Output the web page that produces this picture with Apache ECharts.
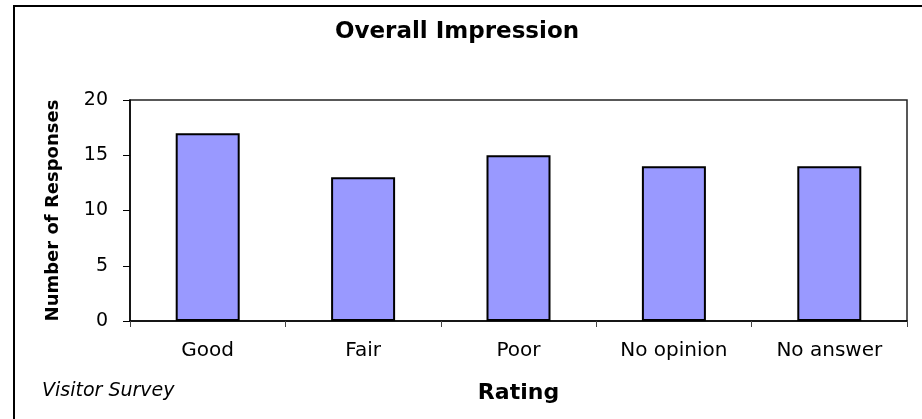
<!DOCTYPE html>
<html>
<head>
<meta charset="utf-8">
<script src="https://cdn.jsdelivr.net/npm/echarts@6/dist/echarts.min.js"></script>
<style>
  html, body { margin: 0; padding: 0; background: #fff; }
  #chart { width: 922px; height: 419px; }
</style>
</head>
<body>
<div id="chart"></div>
<script>
// survey data
var categories = ["Good", "Fair", "Poor", "No opinion", "No answer"];
var responses = [17, 13, 15, 14, 14];
var yTicks = { min: 0, max: 20, interval: 5 };

var font = "DejaVu Sans";
var chart = echarts.init(document.getElementById("chart"));

chart.setOption({
  backgroundColor: "#FFFFFF",
  animation: false,
  title: {
    text: "Overall Impression",
    left: 452,
    top: 16,
    textAlign: "center",
    textStyle: { fontFamily: font, fontWeight: "bold", fontSize: 23, color: "#000" }
  },
  grid: {
    left: 130,
    right: 15,
    top: 100,
    bottom: 98,
    show: true,
    borderColor: "#222",
    borderWidth: 1.5,
    containLabel: false
  },
  xAxis: {
    type: "category",
    data: categories,
    name: "Rating",
    nameLocation: "middle",
    nameGap: 61,
    nameTextStyle: { fontFamily: font, fontWeight: "bold", fontSize: 22, color: "#000" },
    axisLine: { lineStyle: { color: "#000", width: 1.5 } },
    axisTick: { show: true, length: 6, lineStyle: { color: "#444" } },
    axisLabel: { margin: 20, fontFamily: font, fontSize: 20, color: "#000" }
  },
  yAxis: {
    type: "value",
    min: yTicks.min,
    max: yTicks.max,
    interval: yTicks.interval,
    name: "Number of Responses",
    nameLocation: "middle",
    nameGap: 68,
    nameRotate: 90,
    nameTextStyle: { fontFamily: font, fontWeight: "bold", fontSize: 18, color: "#000" },
    axisLine: { show: true, lineStyle: { color: "#000", width: 1.5 } },
    axisTick: { show: true, length: 7, lineStyle: { color: "#000" } },
    axisLabel: { margin: 22, fontFamily: font, fontSize: 19, color: "#000" },
    splitLine: { show: false }
  },
  series: [{
    type: "bar",
    data: responses,
    barWidth: 64,
    itemStyle: { color: "#9999FF", borderColor: "#000", borderWidth: 2 }
  }],
  graphic: [
    {
      type: "polyline",
      shape: { points: [[14, 419], [14, 6], [922, 6]] },
      style: { stroke: "#000", lineWidth: 2, fill: null }
    },
    {
      type: "text",
      left: 42,
      top: 382,
      style: {
        text: "Visitor Survey",
        font: "italic 19px 'DejaVu Sans'",
        fill: "#000"
      }
    }
  ]
});
</script>
</body>
</html>
